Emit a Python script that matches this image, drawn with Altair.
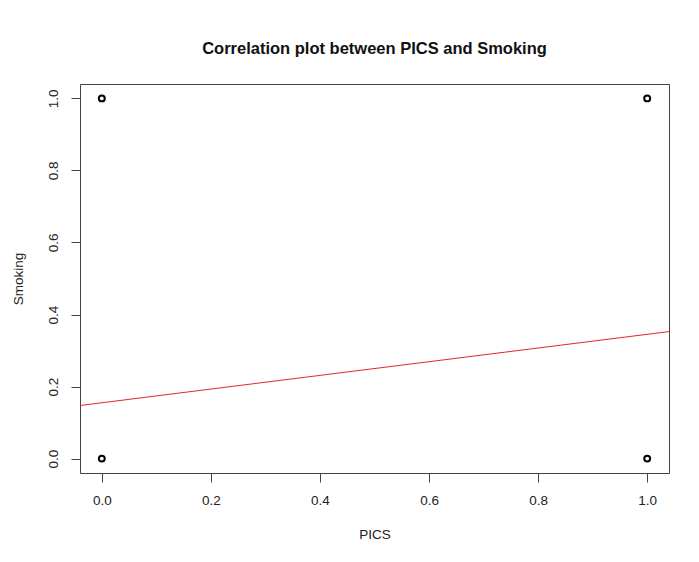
import altair as alt
import pandas as pd

# Observed points (binary PICS vs Smoking)
pics = [0, 0, 1, 1]
smoking = [0, 1, 0, 1]

# Fitted regression line
intercept = 0.155
slope = 0.19
line_x = [-0.04, 1.04]

ticks = [0.0, 0.2, 0.4, 0.6, 0.8, 1.0]

pts = pd.DataFrame({"PICS": pics, "Smoking": smoking})
ln = pd.DataFrame({"PICS": line_x})

FONT = "Liberation Sans"
xscale = alt.Scale(domain=[-0.04, 1.04], nice=False, zero=False)
yscale = alt.Scale(domain=[-0.04, 1.04], nice=False, zero=False)

xaxis = alt.Axis(values=ticks, format=".1f", title="PICS", grid=False, domain=False,
                 tickSize=9, tickColor="#444", labelPadding=11, labelFontSize=13.5,
                 labelFont=FONT, labelColor="#222", titleFont=FONT, titleFontSize=13.5,
                 titleFontWeight="normal", titleColor="#222", titlePadding=21)
yaxis = alt.Axis(values=ticks, format=".1f", title="Smoking", grid=False, domain=False,
                 tickSize=9, tickColor="#444", labelPadding=18, labelFontSize=13.5,
                 labelAngle=270, labelAlign="center", labelBaseline="middle",
                 labelFont=FONT, labelColor="#222", titleFont=FONT, titleFontSize=13.5,
                 titleFontWeight="normal", titleColor="#222", titlePadding=21)

points = alt.Chart(pts).mark_point(shape="circle", filled=False, color="black",
                                   strokeWidth=2, size=35, opacity=1).encode(
    x=alt.X("PICS:Q", scale=xscale, axis=xaxis),
    y=alt.Y("Smoking:Q", scale=yscale, axis=yaxis),
)

line = alt.Chart(ln).transform_calculate(
    fit=f"{intercept} + {slope} * datum.PICS"
).mark_line(color="#e02828", strokeWidth=1, clip=True).encode(
    x=alt.X("PICS:Q", scale=xscale),
    y=alt.Y("fit:Q", scale=yscale),
)

chart = alt.layer(points, line).properties(
    width=589, height=389,
    title=alt.TitleParams("Correlation plot between PICS and Smoking", font=FONT,
                          fontSize=16.5, fontWeight="bold", color="#111",
                          anchor="middle", offset=27),
    autosize=alt.AutoSizeParams(type="none"),
    padding={"left": 72, "top": 76, "right": 20, "bottom": 70},
    background="white",
).configure_view(stroke="#444", strokeWidth=1)

chart.save("out.html", embed_options={"renderer": "svg", "actions": False})
